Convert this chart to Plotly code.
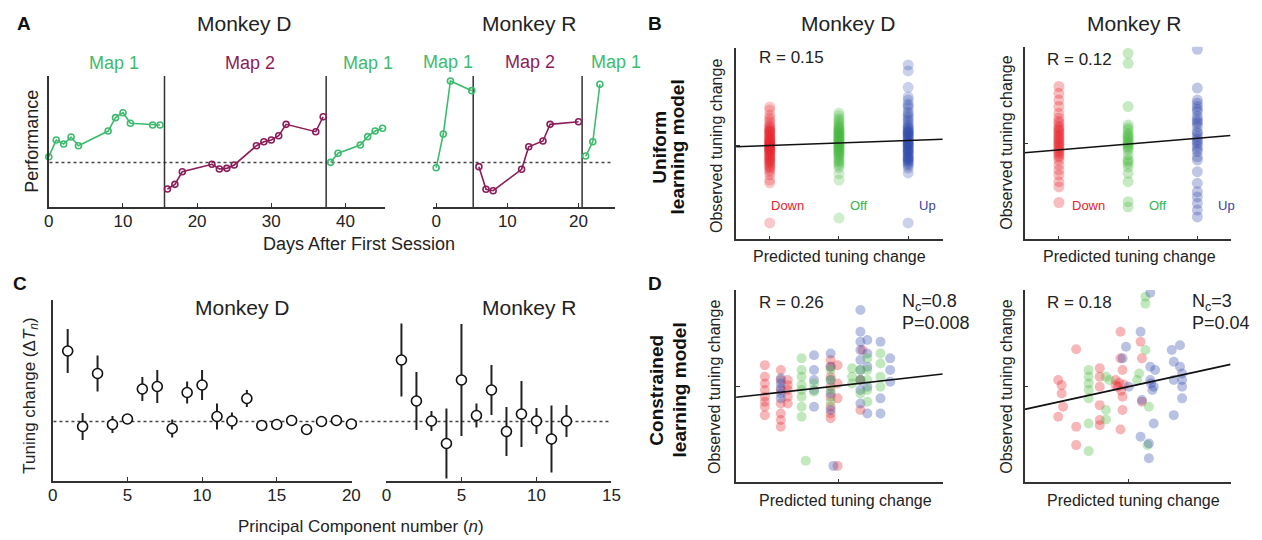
import plotly.graph_objects as go

W, H = 1262, 540
FONT = "Liberation Sans, Arial, Helvetica, sans-serif"

# ---------------- Panel A data (performance, arbitrary units; chance = 0.34) ----------------
A_D_map1_day = [0, 1, 2, 3, 4, 8, 9, 10, 11, 14, 15]
A_D_map1_perf = [0.384, 0.511, 0.481, 0.534, 0.468, 0.580, 0.682, 0.720, 0.639, 0.626, 0.626]
A_D_map2_day = [16, 17, 18, 22, 23, 24, 25, 28, 29, 30, 31, 32, 36, 37]
A_D_map2_perf = [0.137, 0.173, 0.269, 0.326, 0.290, 0.295, 0.321, 0.468, 0.498, 0.511, 0.544, 0.631, 0.575, 0.689]
A_D_map1b_day = [38, 39, 42, 43, 44, 45]
A_D_map1b_perf = [0.341, 0.410, 0.473, 0.537, 0.580, 0.601]
A_D_switch = [15.6, 37.4]

A_R_map1_day = [0, 1, 2, 5]
A_R_map1_perf = [0.300, 0.557, 0.962, 0.888]
A_R_map2_day = [6, 7, 8, 12, 13, 15, 16, 20]
A_R_map2_perf = [0.308, 0.135, 0.124, 0.288, 0.460, 0.504, 0.631, 0.651]
A_R_map1b_day = [21, 22, 23]
A_R_map1b_perf = [0.389, 0.498, 0.937]
A_R_switch = [5.2, 20.5]
A_chance = 0.34

A_D_ticks = [0, 10, 20, 30, 40]
A_R_ticks = [0, 10, 20]

# ---------------- Panel C data (tuning change per PC) ----------------
C_D_n = [1, 2, 3, 4, 5, 6, 7, 8, 9, 10, 11, 12, 13, 14, 15, 16, 17, 18, 19, 20]
C_D_val = [1.41, -0.10, 0.96, -0.06, 0.05, 0.65, 0.70, -0.14, 0.58, 0.73,
           0.10, 0.01, 0.46, -0.08, -0.06, 0.02, -0.16, 0.00, 0.02, -0.05]
C_D_err = [0.44, 0.27, 0.36, 0.17, 0.08, 0.24, 0.33, 0.18, 0.22, 0.30,
           0.26, 0.17, 0.17, 0.08, 0.10, 0.05, 0.08, 0.05, 0.05, 0.04]
C_R_n = [1, 2, 3, 4, 5, 6, 7, 8, 9, 10, 11, 12]
C_R_val = [1.23, 0.41, 0.01, -0.44, 0.83, 0.12, 0.63, -0.20, 0.15, 0.01, -0.35, 0.01]
C_R_err = [0.73, 0.58, 0.20, 0.70, 1.12, 0.24, 0.50, 0.49, 0.66, 0.26, 0.67, 0.32]
C_D_ticks = [0, 5, 10, 15, 20]
C_R_ticks = [0, 5, 10, 15]

# ---------------- Panel B data (uniform learning model) ----------------
B_cols = [-1, 0, 1]   # Down, Off, Up
BD_down = [0.97, 0.89, 0.77, 0.64, 0.52, 0.44, 0.37, 0.30, 0.22, 0.15, 0.07, 0.00, -0.08, -0.15,
           -0.23, -0.30, -0.38, -0.46, -0.53, -0.61, -0.73, -0.86, -0.93, -1.93, 0.35, 0.20, 0.10,
           0.05, -0.05, -0.10, -0.20, -0.35, 0.25, -0.25, 0.12, -0.12, 0.02, -0.02,
           0.48, 0.42, 0.38, 0.33, 0.28, 0.18, 0.13, 0.08, 0.03, -0.03, -0.07, -0.13, -0.18,
           -0.28, -0.33, -0.40, -0.43, -0.50, -0.56, 0.58, 0.70, -0.66]
BD_off = [0.82, 0.75, 0.68, 0.60, 0.52, 0.45, 0.38, 0.30, 0.22, 0.15, 0.08, 0.00, -0.08, -0.15,
          -0.22, -0.30, -0.38, -0.45, -0.55, -0.70, -0.86, -1.81, 0.30, 0.20, 0.10, 0.00, -0.10,
          -0.20, 0.25, 0.05, -0.05, 0.15, 0.40, 0.35,
          0.64, 0.56, 0.48, 0.43, 0.33, 0.27, 0.18, 0.12, 0.03, -0.03, -0.12, -0.18, -0.26,
          -0.34, -0.41, -0.50]
BD_up = [2.02, 1.87, 1.46, 1.22, 1.14, 1.04, 0.94, 0.84, 0.74, 0.64, 0.54, 0.44, 0.34, 0.24, 0.14,
         0.04, -0.06, -0.16, -0.26, -0.36, -0.46, -0.56, -0.68, -1.93, 0.50, 0.40, 0.30, 0.20,
         0.10, 0.00, -0.10, -0.20, -0.30, -0.40, 0.25, 0.05, -0.15, 0.35, -0.35,
         0.46, 0.38, 0.32, 0.27, 0.18, 0.12, 0.07, 0.02, -0.03, -0.08, -0.13, -0.22, -0.28,
         -0.33, -0.43, -0.50, 0.60, 0.70, 0.80, 1.00]
BR_down = [1.42, 1.25, 1.08, 0.92, 0.75, 0.63, 0.50, 0.42, 0.33, 0.25, 0.17, 0.08, 0.00, -0.08,
           -0.17, -0.25, -0.34, -0.42, -0.54, -0.67, -0.79, -0.96, -1.09, -1.48, 0.12, 0.04,
           -0.04, -0.12, 0.20, -0.20, 0.30, 0.38, -0.30, 0.55]
BR_off = [2.25, 2.00, 0.92, 0.46, 0.33, 0.25, 0.17, 0.08, 0.00, -0.08, -0.17, -0.29, -0.50, -0.59,
          -0.75, -0.96, -1.46, -1.59, 0.38, 0.12, 0.04, -0.04, 0.21, -0.12, -0.40, -0.45]
BR_up = [2.35, 1.38, 1.08, 1.00, 0.92, 0.79, 0.67, 0.54, 0.42, 0.29, 0.17, 0.04, -0.08, -0.21,
         -0.34, -0.42, -0.71, -1.00, -1.21, -1.34, -1.50, -1.67, -1.84, 0.10, 0.25, -0.15, 0.60,
         0.85, 0.50, 0.00]
BD_fit = (0.067, 0.062)   # intercept, slope
BR_fit = (-0.02, 0.145)

# ---------------- Panel D data (constrained learning model) ----------------
DD_red_cols = [-1.07, -0.84, -0.74, -0.12, -0.02, 0.31, 0.34]
DD_red_vals = [[0.54, 0.25, 0.08, -0.08, -0.25, -0.375, -0.5, -0.71],
               [0.42, 0.17, -0.08, -0.42, -0.67, -0.83, -1.0],
               [0.17, 0.04, -0.08, -0.25, -0.42],
               [0.67, 0.5, 0.25, 0.0, -0.25, -0.5, -0.67, -0.79],
               [0.54, 0.08, -0.29, -1.98],
               [0.17, -0.58],
               [0.92]]
DD_blue_cols = [-0.84, -0.36, -0.12, -0.08, 0.31, 0.41, 0.60, 0.74]
DD_blue_vals = [[0.21, 0.08, -0.04, -0.17, -0.29],
                [0.79, 0.42, 0.17, -0.08, -0.5],
                [0.83, 0.5, 0.17, -0.17, -0.58],
                [-1.98],
                [1.92, 1.375, 1.125, 0.92, 0.67, 0.42, 0.17, -0.08, -0.42],
                [1.17, 0.83, 0.5, 0.0, -0.67],
                [1.125, -0.29, -0.67],
                [0.71, 0.42, 0.125]]
DD_green_cols = [-0.54, -0.48, -0.36, -0.12, 0.19, 0.31, 0.41, 0.60]
DD_green_vals = [[0.71, 0.42, 0.25, 0.04, -0.08, -0.25, -0.5, -0.75],
                 [-1.85],
                 [0.08, -0.125],
                 [0.42, 0.17, -0.08, -0.375],
                 [0.46, 0.25, 0.08],
                 [0.42, 0.17, -0.17],
                 [0.71, 0.42, 0.17, -0.08, -0.375],
                 [0.83, 0.58, 0.25, 0.0]]
DD_fit = (0.025, 0.195)

DR_red_x = [-1.01, -0.96, -0.96, -0.94, -1.01, -0.75, -0.75, -0.75, -0.41, -0.41, -0.41, -0.41,
            -0.41, -0.41, -0.18, -0.18, -0.15, -0.11, -0.11, -0.08, -0.08, -0.08, -0.11, 0.18,
            0.20, 0.20, -0.13, -0.10, -0.06]
DR_red_y = [0.17, 0.04, -0.17, -0.50, -0.75, 0.94, -1.00, -1.46, 0.46, 0.25, 0.00, -0.46,
            -0.83, -0.96, 0.17, 0.04, 0.00, 1.375, 0.71, 0.42, -0.25, -0.58, -1.07, 1.125,
            0.71, -0.375, 0.10, -0.10, 0.05]
DR_green_x = [-0.57, -0.57, -0.57, -0.57, -0.57, -0.57, -0.57, -0.32, -0.32, -0.32, -0.27, 0.13,
              0.25, 0.25, 0.25, 0.30, 0.28, 0.16]
DR_green_y = [0.42, 0.25, 0.08, -0.08, -0.29, -0.92, -1.61, 0.25, -0.58, -0.82, 0.17, 0.17,
              0.92, 2.08, 2.25, -0.50, -1.46, 0.33]
DR_blue_x = [-0.08, -0.03, 0.01, 0.18, 0.20, 0.18, 0.30, 0.30, 0.32, 0.37, 0.32, 0.32, 0.37,
             0.39, 0.63, 0.66, 0.66, 0.66, 0.75, 0.75, 0.78, 0.78, 0.78, 0.78, 0.33, 0.35]
DR_blue_y = [0.71, 1.00, 0.00, 1.375, -0.33, -1.25, -1.42, -1.79, 2.35, -0.92, 0.50, 0.17, 0.00,
             0.42, 0.92, 0.625, 0.17, -0.71, 1.04, 0.50, 0.33, 0.17, 0.00, -0.29, 0.08, -0.08]
DR_fit = (0.0, 0.378)

RED, GREEN, BLUE = "#E8232B", "#45B93A", "#2D46AA"
MAPG, MAPP = "#3DBB6E", "#8C1D5B"
AX = "#333333"


def xd(a, b):
    return [a / W, b / W]


def yd(top, bottom):
    return [1 - bottom / H, 1 - top / H]


def expand(cols, vals):
    xs, ys = [], []
    for c, vs in zip(cols, vals):
        for v in vs:
            xs.append(c)
            ys.append(v)
    return xs, ys


fig = go.Figure()

axes = {
    1: dict(xdom=xd(44.3, 384), xr=[0, 45.3], ydom=yd(76, 207), yr=[0, 1], yline=True,
            xt=A_D_ticks, yt=[], lab=True),
    2: dict(xdom=xd(433, 616.7), xr=[-0.42, 25.1], ydom=yd(76, 207), yr=[0, 1], yline=False,
            xt=A_R_ticks, yt=[], lab=True),
    3: dict(xdom=xd(48.3, 351), xr=[0, 20.05], ydom=yd(300, 481), yr=[-1.19, 2.43], yline=True,
            xt=C_D_ticks, yt=[], lab=True),
    4: dict(xdom=xd(385.7, 613.3), xr=[0, 15], ydom=yd(300, 481), yr=[-1.19, 2.43], yline=False,
            xt=C_R_ticks, yt=[], lab=True),
    5: dict(xdom=xd(739.3, 948.3), xr=[-1.486, 1.5], ydom=yd(47.7, 239.3), yr=[-2.34, 2.45],
            yline=True, xt=B_cols, yt=[0], lab=False),
    6: dict(xdom=xd(1031, 1239.3), xr=[-1.496, 1.48], ydom=yd(46.7, 239.3), yr=[-2.4, 2.415],
            yline=True, xt=B_cols, yt=[0], lab=False),
    7: dict(xdom=xd(739.3, 948.3), xr=[-1.486, 1.5], ydom=yd(290, 482.3), yr=[-2.39, 2.42],
            yline=True, xt=[0], yt=[0], lab=False),
    8: dict(xdom=xd(1031, 1239.3), xr=[-1.496, 1.48], ydom=yd(290, 482.3), yr=[-2.39, 2.42],
            yline=True, xt=[0], yt=[0], lab=False),
}

layout_axes = {}
for i, a in axes.items():
    s = "" if i == 1 else str(i)
    layout_axes["xaxis" + s] = dict(
        domain=a["xdom"], range=a["xr"], anchor="y" + s, showgrid=False, zeroline=False,
        showline=True, linecolor=AX, linewidth=1.5, ticks="inside", ticklen=4, tickwidth=1.2,
        tickcolor=AX, tickmode="array", tickvals=a["xt"], showticklabels=a["lab"],
        tickfont=dict(family=FONT, size=17, color="#222"), ticklabelstandoff=-2, fixedrange=True)
    layout_axes["yaxis" + s] = dict(
        domain=a["ydom"], range=a["yr"], anchor="x" + s, showgrid=False, zeroline=False,
        showline=a["yline"], linecolor=AX, linewidth=1.5, ticks="inside" if a["yt"] else "",
        ticklen=4, tickwidth=1.2, tickcolor=AX, tickmode="array", tickvals=a["yt"],
        showticklabels=False, fixedrange=True)


def perf_trace(days, perf, color, ax):
    return go.Scatter(x=days, y=perf, mode="lines+markers", xaxis="x" + ax, yaxis="y" + ax,
                      line=dict(color=color, width=1.6), cliponaxis=False,
                      marker=dict(symbol="circle-open", size=6, color=color, line=dict(width=1.6)))

fig.add_trace(perf_trace(A_D_map1_day, A_D_map1_perf, MAPG, ""))
fig.add_trace(perf_trace(A_D_map2_day, A_D_map2_perf, MAPP, ""))
fig.add_trace(perf_trace(A_D_map1b_day, A_D_map1b_perf, MAPG, ""))
fig.add_trace(perf_trace(A_R_map1_day, A_R_map1_perf, MAPG, "2"))
fig.add_trace(perf_trace(A_R_map2_day, A_R_map2_perf, MAPP, "2"))
fig.add_trace(perf_trace(A_R_map1b_day, A_R_map1b_perf, MAPG, "2"))

shapes = []
for d in A_D_switch:
    shapes.append(dict(type="line", xref="x", yref="y", x0=d, x1=d, y0=0, y1=1,
                       line=dict(color=AX, width=1.5), layer="below"))
for d in A_R_switch:
    shapes.append(dict(type="line", xref="x2", yref="y2", x0=d, x1=d, y0=0, y1=1,
                       line=dict(color=AX, width=1.5), layer="below"))
shapes.append(dict(type="line", xref="paper", yref="y", x0=45 / W, x1=613 / W,
                   y0=A_chance, y1=A_chance, line=dict(color="#444", width=1.5, dash="3px,3px"),
                   layer="below"))
shapes.append(dict(type="line", xref="paper", yref="y3", x0=49 / W, x1=613 / W,
                   y0=0, y1=0, line=dict(color="#444", width=1.5, dash="3px,3px"), layer="below"))


def pc_trace(n, v, e, ax):
    return go.Scatter(x=n, y=v, mode="markers", xaxis="x" + ax, yaxis="y" + ax, cliponaxis=False,
                      error_y=dict(type="data", array=e, visible=True, color="#222",
                                   thickness=2, width=0),
                      marker=dict(symbol="circle", size=10, color="white",
                                  line=dict(color="#111", width=1.6)))

fig.add_trace(pc_trace(C_D_n, C_D_val, C_D_err, "3"))
fig.add_trace(pc_trace(C_R_n, C_R_val, C_R_err, "4"))


def dots(xs, ys, color, ax, op, size):
    return go.Scatter(x=xs, y=ys, mode="markers", xaxis="x" + ax, yaxis="y" + ax,
                      marker=dict(size=size, color=color, opacity=op, line=dict(width=0)))


def fitline(fit, ax, rng):
    a, b = fit
    return go.Scatter(x=[rng[0], rng[1]], y=[a + b * rng[0], a + b * rng[1]], mode="lines",
                      xaxis="x" + ax, yaxis="y" + ax, line=dict(color="#111", width=1.6))

fig.add_trace(dots([B_cols[0]] * len(BD_down), BD_down, RED, "5", 0.25, 11))
fig.add_trace(dots([B_cols[1]] * len(BD_off), BD_off, GREEN, "5", 0.25, 11))
fig.add_trace(dots([B_cols[2]] * len(BD_up), BD_up, BLUE, "5", 0.25, 11))
fig.add_trace(fitline(BD_fit, "5", axes[5]["xr"]))
fig.add_trace(dots([B_cols[0]] * len(BR_down), BR_down, RED, "6", 0.3, 11))
fig.add_trace(dots([B_cols[1]] * len(BR_off), BR_off, GREEN, "6", 0.3, 11))
fig.add_trace(dots([B_cols[2]] * len(BR_up), BR_up, BLUE, "6", 0.3, 11))
fig.add_trace(fitline(BR_fit, "6", axes[6]["xr"]))

x, y = expand(DD_red_cols, DD_red_vals)
fig.add_trace(dots(x, y, RED, "7", 0.33, 10))
x, y = expand(DD_blue_cols, DD_blue_vals)
fig.add_trace(dots(x, y, BLUE, "7", 0.33, 10))
x, y = expand(DD_green_cols, DD_green_vals)
fig.add_trace(dots(x, y, GREEN, "7", 0.33, 10))
fig.add_trace(fitline(DD_fit, "7", axes[7]["xr"]))
fig.add_trace(dots(DR_red_x, DR_red_y, RED, "8", 0.33, 10))
fig.add_trace(dots(DR_green_x, DR_green_y, GREEN, "8", 0.33, 10))
fig.add_trace(dots(DR_blue_x, DR_blue_y, BLUE, "8", 0.33, 10))
fig.add_trace(fitline(DR_fit, "8", axes[8]["xr"]))

ann = []


def txt(t, xp, yp, size, color="#222", bold=False, angle=0, xanchor="center"):
    if bold:
        t = "<b>" + t + "</b>"
    ann.append(dict(text=t, xref="paper", yref="paper", x=xp / W, y=1 - yp / H,
                    xanchor=xanchor, yanchor="middle", showarrow=False, textangle=angle,
                    font=dict(family=FONT, size=size, color=color)))

txt("A", 19, 23, 19, "#111", bold=True)
txt("B", 657, 23, 19, "#111", bold=True)
txt("C", 15, 283, 19, "#111", bold=True)
txt("D", 657, 283, 19, "#111", bold=True)

txt("Monkey D", 242, 23, 21)
txt("Monkey R", 530, 23, 21)
txt("Map 1", 110, 63, 18, MAPG)
txt("Map 2", 248, 63, 18, MAPP)
txt("Map 1", 367, 63, 18, MAPG)
txt("Map 1", 448, 62, 18, MAPG)
txt("Map 2", 531, 62, 18, MAPP)
txt("Map 1", 618, 62, 18, MAPG)
txt("Performance", 27, 141, 18, angle=-90)
txt("Days After First Session", 358, 244, 18)

txt("Monkey D", 240, 307, 21)
txt("Monkey R", 530, 307, 21)
txt("Tuning change (Δ<i>T<sub>n</sub></i>)", 26, 396, 17, angle=-90)
txt("Principal Component number (<i>n</i>)", 360, 526, 17)

txt("Monkey D", 853, 23, 21)
txt("Monkey R", 1142, 23, 21)
txt("Uniform", 662, 147, 19, "#111", bold=True, angle=-90)
txt("learning model", 681, 147, 19, "#111", bold=True, angle=-90)
txt("R = 0.15", 760, 58, 17, xanchor="left")
txt("R = 0.12", 1052, 59, 17, xanchor="left")
txt("Down", 773, 205, 13, RED, xanchor="left")
txt("Off", 852, 205, 13, "#2DB84C", xanchor="left")
txt("Up", 922, 205, 13, "#3A3FA3", xanchor="left")
txt("Down", 1077, 205, 13, RED, xanchor="left")
txt("Off", 1155, 205, 13, "#2DB84C", xanchor="left")
txt("Up", 1225, 205, 13, "#3A3FA3", xanchor="left")
txt("Predicted tuning change", 844, 257, 16)
txt("Predicted tuning change", 1137, 257, 16)
txt("Observed tuning change", 719, 146, 16, angle=-90)
txt("Observed tuning change", 1012, 143, 16, angle=-90)

txt("Constrained", 658, 390, 19, "#111", bold=True, angle=-90)
txt("learning model", 682, 390, 19, "#111", bold=True, angle=-90)
txt("R = 0.26", 760, 302, 17, xanchor="left")
txt("N<sub>c</sub>=0.8", 905, 302, 18, xanchor="left")
txt("P=0.008", 905, 323, 18, xanchor="left")
txt("R = 0.18", 1052, 302, 17, xanchor="left")
txt("N<sub>c</sub>=3", 1198, 302, 18, xanchor="left")
txt("P=0.04", 1198, 323, 18, xanchor="left")
txt("Predicted tuning change", 850, 500, 16)
txt("Predicted tuning change", 1141, 500, 16)
txt("Observed tuning change", 717, 387, 16, angle=-90)
txt("Observed tuning change", 1012, 387, 16, angle=-90)

fig.update_layout(
    width=W, height=H, margin=dict(l=0, r=0, t=0, b=0), autosize=False,
    paper_bgcolor="white", plot_bgcolor="rgba(0,0,0,0)", showlegend=False,
    font=dict(family=FONT, color="#222"), shapes=shapes, annotations=ann, **layout_axes)

fig.write_html("out.html", config={"displayModeBar": False},
               post_script="document.body.style.margin='0px';document.body.style.overflow='hidden';")
